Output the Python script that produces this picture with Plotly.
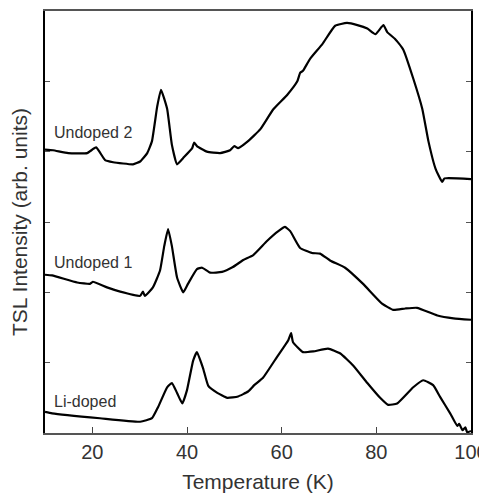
import plotly.graph_objects as go

# Undoped 2
u2_T = [10, 11.7, 14.9, 18.9, 20.8, 22.7, 24.4, 28.6, 30.1, 31.6, 32.6, 33.7, 34.5, 35.8, 36.8, 37.9,
        39.2, 41.1, 41.5, 42.1, 44.2, 47.0, 49.1, 50.0, 50.8, 52.9, 55.5, 58.2, 61.2, 63.3, 63.9, 64.5,
        66.0, 68.6, 71.3, 73.8, 76.0, 78.1, 79.8, 81.5, 82.3, 84.0, 85.7, 87.8, 89.7, 91.0, 92.5, 93.9,
        94.4, 100]
u2_I = [4.03, 4.02, 3.98, 3.98, 4.06, 3.88, 3.85, 3.82, 3.86, 3.98, 4.15, 4.64, 4.88, 4.61, 4.10, 3.82,
        3.91, 4.05, 4.13, 4.08, 4.00, 3.98, 4.02, 4.08, 4.05, 4.15, 4.32, 4.60, 4.81, 5.00, 5.12, 5.15,
        5.32, 5.53, 5.79, 5.83, 5.80, 5.75, 5.67, 5.80, 5.70, 5.60, 5.45, 5.04, 4.61, 4.15, 3.76, 3.57,
        3.62, 3.61]

# Undoped 1
u1_T = [10, 11.5, 16.8, 19.5, 20.1, 23.1, 25.9, 30.1, 30.7, 31.1, 32.8, 34.3, 35.2, 36.0, 36.8, 37.9,
        39.2, 40.2, 42.1, 43.2, 44.9, 47.4, 49.7, 51.9, 54.0, 56.9, 59.3, 60.7, 61.8, 63.9, 66.4, 68.1,
        70.3, 73.4, 77.2, 81.2, 83.6, 86.1, 88.6, 92.9, 96.3, 100]
u1_I = [2.25, 2.24, 2.14, 2.12, 2.15, 2.07, 2.01, 1.95, 2.01, 1.95, 2.07, 2.31, 2.66, 2.90, 2.66, 2.21,
        2.00, 2.12, 2.33, 2.35, 2.28, 2.29, 2.36, 2.46, 2.53, 2.73, 2.87, 2.93, 2.87, 2.63, 2.56, 2.55,
        2.45, 2.35, 2.12, 1.84, 1.75, 1.77, 1.78, 1.67, 1.63, 1.61]

# Li-doped
li_T = [10, 11.5, 21.6, 30.1, 32.6, 33.9, 35.8, 36.8, 37.9, 39.0, 40.0, 41.3, 42.1, 43.4, 44.5, 46.4,
        48.5, 50.8, 52.9, 54.2, 56.1, 59.0, 61.4, 62.0, 62.4, 64.5, 66.7, 69.8, 72.4, 75.1, 78.1, 80.8,
        82.5, 84.4, 87.8, 89.9, 92.0, 93.5, 95.6, 97.1, 97.5, 98.2, 98.8, 99.2, 100]
li_I = [0.30, 0.28, 0.21, 0.16, 0.21, 0.37, 0.65, 0.71, 0.57, 0.42, 0.61, 1.03, 1.15, 0.92, 0.67, 0.57,
        0.50, 0.52, 0.59, 0.68, 0.79, 1.08, 1.32, 1.42, 1.29, 1.15, 1.16, 1.20, 1.13, 0.96, 0.71, 0.50,
        0.40, 0.42, 0.65, 0.75, 0.68, 0.51, 0.28, 0.10, 0.13, 0.04, 0.08, 0.01, 0.03]

labels = ["Undoped 2", "Undoped 1", "Li-doped"]
label_T = [11.5, 11.5, 11.5]
label_I = [4.27, 2.42, 0.45]

x_ticks = [20, 40, 60, 80, 100]
y_ticks = [0, 1, 2, 3, 4, 5, 6]

FONT = "Liberation Sans, Arial, sans-serif"

fig = go.Figure()
for T, I in [(u2_T, u2_I), (u1_T, u1_I), (li_T, li_I)]:
    fig.add_trace(go.Scatter(x=T, y=I, mode="lines",
                             line=dict(color="black", width=2.2, shape="spline", smoothing=0.4),
                             showlegend=False, hoverinfo="skip"))

for t, xx, yy in zip(labels, label_T, label_I):
    fig.add_annotation(x=xx, y=yy, text=t, showarrow=False, xanchor="left", yanchor="middle",
                       font=dict(family=FONT, size=16, color="#333333"))

# the page body keeps its default 8px margin, so the figure starts at (8, 8)
fig.update_layout(
    width=487, height=488,
    margin=dict(l=37, r=24, t=1, b=63),
    paper_bgcolor="white", plot_bgcolor="white",
    font=dict(family=FONT, color="#333333"),
    hovermode=False,
    xaxis=dict(range=[10, 100], tickvals=x_ticks, ticks="inside", ticklen=6, tickwidth=1,
               tickcolor="#444444", showline=True, linecolor="#555555", linewidth=1.5, mirror=True,
               showgrid=False, zeroline=False, tickfont=dict(size=20, color="#333333"),
               ticklabeloverflow="allow",
               title=dict(text="Temperature (K)", font=dict(size=21, color="#333333"), standoff=13)),
    yaxis=dict(range=[0, 6], tickvals=y_ticks, showticklabels=False, ticks="inside", ticklen=5,
               tickwidth=1, tickcolor="#555555", showline=True, linecolor="black", linewidth=1.5,
               mirror="ticks", showgrid=False, zeroline=False,
               title=dict(text="TSL Intensity (arb. units)", font=dict(size=21, color="#333333"),
                          standoff=14)),
)

fig.write_html("out.html", config={"displayModeBar": False})
